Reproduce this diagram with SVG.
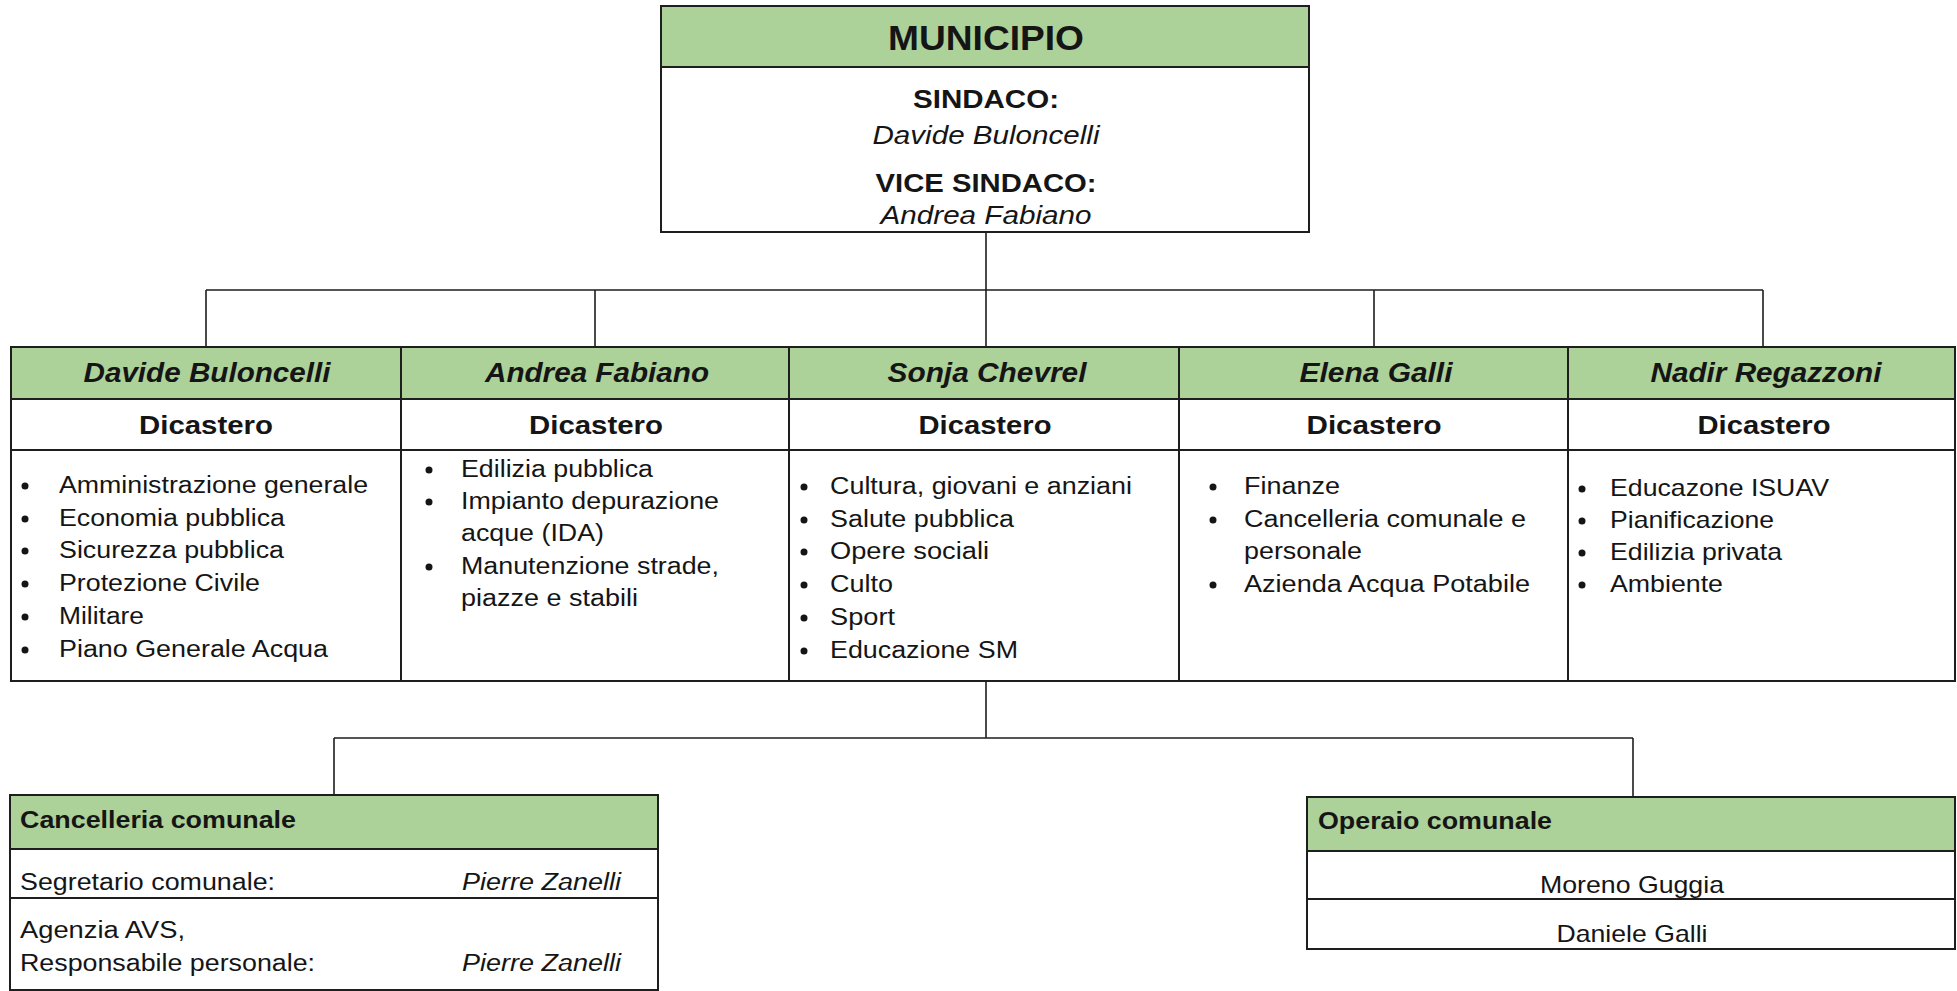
<svg xmlns="http://www.w3.org/2000/svg" width="1957" height="991" viewBox="0 0 1957 991">
<style>
text{font-family:"Liberation Sans",Arial,sans-serif;fill:#151515}
.b{font-weight:bold}
.i{font-style:italic}
.bi{font-weight:bold;font-style:italic}
.m{text-anchor:middle}
.hdr{fill:#acd199;stroke:#1e1e1e;stroke-width:2}
.box{fill:#ffffff;stroke:#1e1e1e;stroke-width:2}
.ln{stroke:#1e1e1e;stroke-width:2;fill:none}
.con{stroke:#1e1e1e;stroke-width:1.6;fill:none}
.dot{fill:#151515}
.li{font-size:23px}
.li5{font-size:24px}
.nm{font-size:27px}
.dc{font-size:26px}
</style>
<rect x="0" y="0" width="1957" height="991" fill="#ffffff"/>

<g id="connectors">
<path class="con" d="M986 232V290M206 290H1763M206 290V347M595 290V347M986 290V347M1374 290V347M1763 290V347"/>
<path class="con" d="M986 681V738M334 738H1633M334 738V795M1633 738V797"/>
</g>

<g id="municipio">
<rect class="box" x="661" y="6" width="648" height="226"/>
<rect class="hdr" x="661" y="6" width="648" height="61"/>
<text class="b m" x="986" y="50" font-size="35" textLength="196" lengthAdjust="spacingAndGlyphs">MUNICIPIO</text>
<text class="b m" x="986" y="108" font-size="26" textLength="146" lengthAdjust="spacingAndGlyphs">SINDACO:</text>
<text class="i m" x="986" y="144" font-size="25" textLength="227" lengthAdjust="spacingAndGlyphs">Davide Buloncelli</text>
<text class="b m" x="986" y="192" font-size="26" textLength="221" lengthAdjust="spacingAndGlyphs">VICE SINDACO:</text>
<text class="i m" x="986" y="224" font-size="25" textLength="211" lengthAdjust="spacingAndGlyphs">Andrea Fabiano</text>
</g>

<g id="dicastero-buloncelli">
<rect class="box" x="11" y="347" width="390" height="334"/>
<rect class="hdr" x="11" y="347" width="390" height="52"/>
<path class="ln" d="M11 450H401"/>
<text class="bi m nm" x="207" y="382" textLength="247" lengthAdjust="spacingAndGlyphs">Davide Buloncelli</text>
<text class="b m dc" x="206" y="434" textLength="134" lengthAdjust="spacingAndGlyphs">Dicastero</text>
<circle class="dot" cx="25" cy="486" r="3.5"/><text class="li" x="59" y="493" textLength="309" lengthAdjust="spacingAndGlyphs">Amministrazione generale</text>
<circle class="dot" cx="25" cy="519" r="3.5"/><text class="li" x="59" y="526" textLength="226" lengthAdjust="spacingAndGlyphs">Economia pubblica</text>
<circle class="dot" cx="25" cy="551" r="3.5"/><text class="li" x="59" y="558" textLength="225" lengthAdjust="spacingAndGlyphs">Sicurezza pubblica</text>
<circle class="dot" cx="25" cy="584" r="3.5"/><text class="li" x="59" y="591" textLength="201" lengthAdjust="spacingAndGlyphs">Protezione Civile</text>
<circle class="dot" cx="25" cy="617" r="3.5"/><text class="li" x="59" y="624" textLength="85" lengthAdjust="spacingAndGlyphs">Militare</text>
<circle class="dot" cx="25" cy="650" r="3.5"/><text class="li" x="59" y="657" textLength="269" lengthAdjust="spacingAndGlyphs">Piano Generale Acqua</text>
</g>

<g id="dicastero-fabiano">
<rect class="box" x="401" y="347" width="388" height="334"/>
<rect class="hdr" x="401" y="347" width="388" height="52"/>
<path class="ln" d="M401 450H789"/>
<text class="bi m nm" x="597" y="382" textLength="224" lengthAdjust="spacingAndGlyphs">Andrea Fabiano</text>
<text class="b m dc" x="596" y="434" textLength="134" lengthAdjust="spacingAndGlyphs">Dicastero</text>
<circle class="dot" cx="429" cy="470" r="3.5"/><text class="li" x="461" y="477" textLength="192" lengthAdjust="spacingAndGlyphs">Edilizia pubblica</text>
<circle class="dot" cx="429" cy="502" r="3.5"/><text class="li" x="461" y="509" textLength="258" lengthAdjust="spacingAndGlyphs">Impianto depurazione</text>
<text class="li" x="461" y="541" textLength="143" lengthAdjust="spacingAndGlyphs">acque (IDA)</text>
<circle class="dot" cx="429" cy="567" r="3.5"/><text class="li" x="461" y="574" textLength="258" lengthAdjust="spacingAndGlyphs">Manutenzione strade,</text>
<text class="li" x="461" y="606" textLength="177" lengthAdjust="spacingAndGlyphs">piazze e stabili</text>
</g>

<g id="dicastero-chevrel">
<rect class="box" x="789" y="347" width="390" height="334"/>
<rect class="hdr" x="789" y="347" width="390" height="52"/>
<path class="ln" d="M789 450H1179"/>
<text class="bi m nm" x="987" y="382" textLength="199" lengthAdjust="spacingAndGlyphs">Sonja Chevrel</text>
<text class="b m dc" x="985" y="434" textLength="133" lengthAdjust="spacingAndGlyphs">Dicastero</text>
<circle class="dot" cx="804" cy="487" r="3.5"/><text class="li" x="830" y="494" textLength="302" lengthAdjust="spacingAndGlyphs">Cultura, giovani e anziani</text>
<circle class="dot" cx="804" cy="520" r="3.5"/><text class="li" x="830" y="527" textLength="184" lengthAdjust="spacingAndGlyphs">Salute pubblica</text>
<circle class="dot" cx="804" cy="552" r="3.5"/><text class="li" x="830" y="559" textLength="159" lengthAdjust="spacingAndGlyphs">Opere sociali</text>
<circle class="dot" cx="804" cy="585" r="3.5"/><text class="li" x="830" y="592" textLength="63" lengthAdjust="spacingAndGlyphs">Culto</text>
<circle class="dot" cx="804" cy="618" r="3.5"/><text class="li" x="830" y="625" textLength="65" lengthAdjust="spacingAndGlyphs">Sport</text>
<circle class="dot" cx="804" cy="651" r="3.5"/><text class="li" x="830" y="658" textLength="188" lengthAdjust="spacingAndGlyphs">Educazione SM</text>
</g>

<g id="dicastero-galli">
<rect class="box" x="1179" y="347" width="389" height="334"/>
<rect class="hdr" x="1179" y="347" width="389" height="52"/>
<path class="ln" d="M1179 450H1568"/>
<text class="bi m nm" x="1376" y="382" textLength="153" lengthAdjust="spacingAndGlyphs">Elena Galli</text>
<text class="b m dc" x="1374" y="434" textLength="135" lengthAdjust="spacingAndGlyphs">Dicastero</text>
<circle class="dot" cx="1213" cy="487" r="3.5"/><text class="li" x="1244" y="494" textLength="96" lengthAdjust="spacingAndGlyphs">Finanze</text>
<circle class="dot" cx="1213" cy="520" r="3.5"/><text class="li" x="1244" y="527" textLength="282" lengthAdjust="spacingAndGlyphs">Cancelleria comunale e</text>
<text class="li" x="1244" y="559" textLength="118" lengthAdjust="spacingAndGlyphs">personale</text>
<circle class="dot" cx="1213" cy="585" r="3.5"/><text class="li" x="1244" y="592" textLength="286" lengthAdjust="spacingAndGlyphs">Azienda Acqua Potabile</text>
</g>

<g id="dicastero-regazzoni">
<rect class="box" x="1568" y="347" width="387" height="334"/>
<rect class="hdr" x="1568" y="347" width="387" height="52"/>
<path class="ln" d="M1568 450H1955"/>
<text class="bi m nm" x="1766" y="382" textLength="231" lengthAdjust="spacingAndGlyphs">Nadir Regazzoni</text>
<text class="b m dc" x="1764" y="434" textLength="133" lengthAdjust="spacingAndGlyphs">Dicastero</text>
<circle class="dot" cx="1582" cy="489" r="3.5"/><text class="li5" x="1610" y="496" textLength="219" lengthAdjust="spacingAndGlyphs">Educazone ISUAV</text>
<circle class="dot" cx="1582" cy="521" r="3.5"/><text class="li5" x="1610" y="528" textLength="164" lengthAdjust="spacingAndGlyphs">Pianificazione</text>
<circle class="dot" cx="1582" cy="553" r="3.5"/><text class="li5" x="1610" y="560" textLength="172" lengthAdjust="spacingAndGlyphs">Edilizia privata</text>
<circle class="dot" cx="1582" cy="585" r="3.5"/><text class="li5" x="1610" y="592" textLength="113" lengthAdjust="spacingAndGlyphs">Ambiente</text>
</g>

<g id="cancelleria-comunale">
<rect class="box" x="10" y="795" width="648" height="195"/>
<rect class="hdr" x="10" y="795" width="648" height="54"/>
<path class="ln" d="M10 898H658"/>
<text class="b" x="20" y="828" font-size="23" textLength="276" lengthAdjust="spacingAndGlyphs">Cancelleria comunale</text>
<text x="20" y="890" font-size="23" textLength="255" lengthAdjust="spacingAndGlyphs">Segretario comunale:</text>
<text class="i" x="462" y="890" font-size="23" textLength="159" lengthAdjust="spacingAndGlyphs">Pierre Zanelli</text>
<text x="20" y="938" font-size="23" textLength="165" lengthAdjust="spacingAndGlyphs">Agenzia AVS,</text>
<text x="20" y="971" font-size="23" textLength="295" lengthAdjust="spacingAndGlyphs">Responsabile personale:</text>
<text class="i" x="462" y="971" font-size="23" textLength="159" lengthAdjust="spacingAndGlyphs">Pierre Zanelli</text>
</g>

<g id="operaio-comunale">
<rect class="box" x="1307" y="797" width="648" height="152"/>
<rect class="hdr" x="1307" y="797" width="648" height="54"/>
<path class="ln" d="M1307 899H1955"/>
<text class="b" x="1318" y="829" font-size="23" textLength="234" lengthAdjust="spacingAndGlyphs">Operaio comunale</text>
<text class="m" x="1632" y="893" font-size="24" textLength="184" lengthAdjust="spacingAndGlyphs">Moreno Guggia</text>
<text class="m" x="1632" y="942" font-size="24" textLength="151" lengthAdjust="spacingAndGlyphs">Daniele Galli</text>
</g>
</svg>
